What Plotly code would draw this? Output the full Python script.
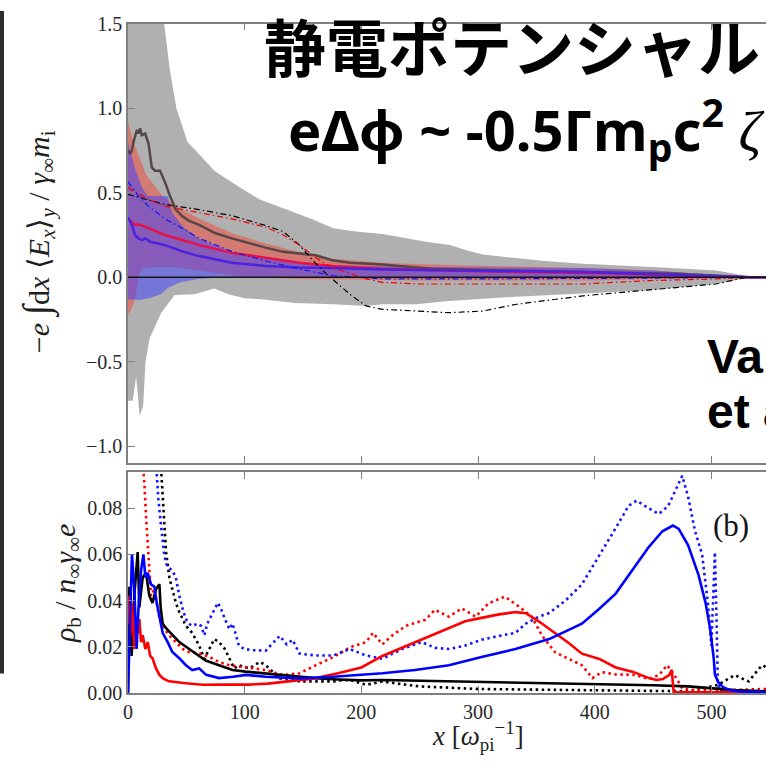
import plotly.graph_objects as go

# ---------------- upper panel: integrated field -e∫dx<Ex>_y ----------------
# grey envelope
gray_up_x = [0, 25, 31, 36, 41.5, 51, 62, 74, 85, 96, 113, 136, 159, 176, 195, 218, 235, 255, 276, 290, 304, 330, 360, 390, 450, 504, 520, 533, 547]
gray_up_y = [2.5, 1.8, 1.5, 1.22, 1.0, 0.80, 0.72, 0.63, 0.58, 0.53, 0.46, 0.40, 0.34, 0.29, 0.27, 0.255, 0.235, 0.21, 0.19, 0.16, 0.135, 0.115, 0.095, 0.08, 0.06, 0.04, 0.02, 0.0, 0.0]
gray_lo_x = [0, 4, 7, 10, 13, 15, 18.6, 21.3, 28.5, 34, 40, 57, 74, 86, 100, 114, 143, 176, 204, 218, 247, 275, 332, 390, 447, 504, 533, 547]
gray_lo_y = [-0.73, -0.73, -0.59, -0.82, -0.76, -0.5, -0.36, -0.32, -0.21, -0.16, -0.105, -0.10, -0.067, -0.10, -0.124, -0.13, -0.153, -0.16, -0.17, -0.16, -0.16, -0.14, -0.115, -0.096, -0.077, -0.04, 0.0, 0.0]

# red envelope
red_up_x = [0, 4, 8, 16, 31, 46, 60, 89, 118, 146, 175, 218, 260, 320, 390, 450, 533, 547]
red_up_y = [0.92, 0.82, 0.74, 0.60, 0.47, 0.40, 0.35, 0.26, 0.20, 0.15, 0.11, 0.085, 0.075, 0.065, 0.055, 0.04, 0.0, 0.0]
red_lo_x = [0, 3, 6, 9, 12, 20, 40, 60, 80, 100, 150, 250, 400, 533, 547]
red_lo_y = [-0.22, -0.19, -0.13, 0.0, 0.05, 0.06, 0.06, 0.04, 0.02, 0.0, -0.01, -0.02, -0.02, 0.0, 0.0]

# blue envelope
blue_up_x = [0, 5.7, 12, 17, 23, 34, 38, 47, 60, 89, 118, 147, 175, 260, 390, 450, 533, 547]
blue_up_y = [0.80, 0.65, 0.53, 0.48, 0.48, 0.48, 0.38, 0.30, 0.23, 0.15, 0.11, 0.08, 0.07, 0.06, 0.055, 0.04, 0.0, 0.0]
blue_lo_x = [0, 10, 20, 28, 35, 45, 60, 80, 150, 533, 547]
blue_lo_y = [-0.13, -0.135, -0.12, -0.10, -0.06, -0.03, -0.01, 0.0, 0.0, 0.0, 0.0]

# mean curves
gray_mean_x = [0, 2, 3.3, 4.7, 7.6, 9, 10.4, 11.8, 14.7, 17.6, 20.4, 23, 27.5, 31.8, 36, 41, 46.6, 52, 61, 75, 89, 104, 118, 133, 147, 161, 175, 190, 218, 260, 320, 400, 470, 533, 547]
gray_mean_y = [0.75, 0.73, 0.75, 0.80, 0.87, 0.85, 0.88, 0.84, 0.85, 0.79, 0.65, 0.63, 0.63, 0.56, 0.48, 0.40, 0.36, 0.335, 0.31, 0.26, 0.23, 0.20, 0.175, 0.15, 0.14, 0.13, 0.10, 0.085, 0.075, 0.05, 0.04, 0.03, 0.02, 0.0, 0.0]
red_mean_x = [0, 3.3, 6, 10, 17.6, 31.8, 46.6, 61, 89, 118, 147, 175, 218, 300, 400, 533, 547]
red_mean_y = [0.345, 0.325, 0.31, 0.312, 0.29, 0.25, 0.22, 0.19, 0.144, 0.115, 0.086, 0.067, 0.05, 0.035, 0.025, 0.0, 0.0]
blue_mean_x = [0, 3.3, 6, 9, 12, 14.7, 19, 26, 31.8, 46.6, 61, 89, 118, 147, 175, 218, 300, 400, 533, 547]
blue_mean_y = [0.354, 0.31, 0.25, 0.23, 0.22, 0.23, 0.21, 0.20, 0.19, 0.153, 0.125, 0.086, 0.067, 0.057, 0.054, 0.045, 0.04, 0.03, 0.0, 0.0]

# model curves (dash-dot)
black_model_x = [0, 31.8, 61, 89, 118, 133, 147, 161, 170, 178, 190, 204, 218, 247, 275, 304, 333, 390, 447, 504, 527, 533, 547]
black_model_y = [0.49, 0.43, 0.40, 0.364, 0.306, 0.27, 0.19, 0.08, 0.02, -0.03, -0.10, -0.17, -0.19, -0.20, -0.21, -0.20, -0.16, -0.11, -0.077, -0.04, -0.005, 0.0, 0.0]
red_model_x = [0, 17.6, 31.8, 61, 89, 118, 133, 147, 161, 175, 204, 218, 250, 390, 447, 504, 533, 547]
red_model_y = [0.53, 0.46, 0.42, 0.383, 0.345, 0.297, 0.25, 0.19, 0.115, 0.057, -0.01, -0.03, -0.04, -0.04, -0.02, -0.01, 0.0, 0.0]
blue_model_x = [0, 9, 17.6, 31.8, 46.6, 61, 89, 118, 147, 175, 218, 300, 450, 533, 547]
blue_model_y = [0.565, 0.48, 0.42, 0.345, 0.29, 0.23, 0.153, 0.096, 0.048, 0.01, -0.01, -0.01, -0.005, 0.0, 0.0]

# ---------------- lower panel: rho_b / n γ e ----------------
rb_black_x = [0, 1.2, 3.1, 5.4, 8.3, 9.7, 12.6, 15.4, 18.3, 21, 24, 26.9, 28, 29.7, 32.6, 38.3, 44, 49.7, 58, 66.6, 78, 89.6, 101, 120, 140, 160, 180, 200, 218, 250, 300, 350, 400, 450, 480, 500, 520, 547]
rb_black_y = [0, 0.046, 0.016, 0.042, 0.061, 0.037, 0.05, 0.052, 0.042, 0.039, 0.045, 0.047, 0.037, 0.03, 0.028, 0.025, 0.022, 0.02, 0.017, 0.014, 0.012, 0.0099, 0.0092, 0.0082, 0.0072, 0.0064, 0.0058, 0.0054, 0.0056, 0.0053, 0.005, 0.0045, 0.004, 0.0033, 0.0028, 0.002, 0.0012, 0.0007]

rb_blue_x = [0, 1.2, 3.4, 5.4, 7.4, 9.2, 11.2, 13.2, 14.9, 16.9, 19.7, 22.6, 24.6, 27, 29.7, 34, 38, 44, 49.7, 55, 61, 67, 78, 90, 101, 118, 147, 176, 218, 246, 275, 303, 332, 361, 389, 403, 418, 432, 446, 458, 467, 472, 480, 489, 495, 499, 502, 503, 506, 510, 516, 525, 547]
rb_blue_y = [0, 0.019, 0.06, 0.045, 0.019, 0.039, 0.053, 0.06, 0.05, 0.052, 0.047, 0.046, 0.039, 0.033, 0.026, 0.022, 0.0177, 0.015, 0.012, 0.0099, 0.0106, 0.0078, 0.0064, 0.007, 0.0078, 0.007, 0.0063, 0.007, 0.0085, 0.0099, 0.012, 0.0155, 0.019, 0.0233, 0.030, 0.036, 0.043, 0.053, 0.063, 0.07, 0.0725, 0.071, 0.064, 0.051, 0.039, 0.0275, 0.015, 0.008, 0.0045, 0.0025, 0.0012, 0.0006, 0.0003]

rb_red_x = [0, 0.9, 2, 3.4, 5.4, 6.8, 8.3, 9.7, 11.2, 12.6, 14.9, 16.9, 19, 21, 24, 27, 29.7, 35, 49.7, 64, 78, 92, 103, 120, 140, 160, 180, 200, 218, 246, 275, 289, 303, 318, 332, 341, 352, 366, 378, 389, 404, 418, 433, 447, 453, 458.5, 464, 466, 467.6, 469, 480, 500, 547]
rb_red_y = [0.03, 0.042, 0.025, 0.039, 0.019, 0.03, 0.026, 0.032, 0.022, 0.025, 0.019, 0.022, 0.016, 0.015, 0.0106, 0.0078, 0.0064, 0.005, 0.0042, 0.0035, 0.0036, 0.0035, 0.0036, 0.004, 0.005, 0.0063, 0.0085, 0.011, 0.016, 0.022, 0.028, 0.031, 0.0325, 0.034, 0.035, 0.0345, 0.031, 0.026, 0.0215, 0.017, 0.0147, 0.011, 0.0091, 0.0063, 0.0056, 0.006, 0.0078, 0.0100, 0.0005, 0.0003, 0.0003, 0.0003, 0.0003]

rb_red_dot_x = [12.6, 14, 15.4, 17, 18.3, 19.7, 22.6, 27, 29.7, 35, 41, 47, 52, 61, 70, 78, 87, 98, 104, 118, 133, 147, 161, 176, 190, 204, 210, 218, 226, 238, 255, 263, 275, 286, 298, 309, 323, 335, 346, 355, 366, 378, 389, 398, 406, 418, 435, 446, 455, 462, 468, 475, 487, 503, 532, 547]
rb_red_dot_y = [0.1, 0.091, 0.077, 0.063, 0.05, 0.042, 0.045, 0.032, 0.029, 0.025, 0.022, 0.019, 0.0177, 0.0172, 0.0155, 0.0134, 0.012, 0.0113, 0.0106, 0.0099, 0.0077, 0.0085, 0.012, 0.0155, 0.0197, 0.022, 0.026, 0.021, 0.0247, 0.029, 0.0317, 0.036, 0.033, 0.0366, 0.033, 0.0388, 0.0417, 0.0374, 0.033, 0.0247, 0.0176, 0.0148, 0.012, 0.0064, 0.009, 0.008, 0.0078, 0.006, 0.0077, 0.012, 0.008, 0.002, 0.0011, 0.0011, 0.0015, 0.0017]

rb_blue_dot_x = [24, 26, 28, 29.7, 31, 32.6, 35.4, 38, 41, 44, 47, 49.7, 52, 55, 59.7, 62.6, 65.4, 68, 71, 74, 77, 80, 83, 87, 89.6, 92, 95, 99.6, 107, 118, 130, 136, 141, 147, 161, 176, 190, 204, 218, 235, 252, 263, 275, 289, 303, 318, 332, 341, 352, 361, 375, 389, 403, 418, 429, 436, 446, 455, 463, 472, 475, 480, 486, 492, 497, 500, 503, 504.5, 505.5, 507, 520, 547]
rb_blue_dot_y = [0.1, 0.084, 0.074, 0.064, 0.06, 0.056, 0.054, 0.053, 0.05, 0.042, 0.036, 0.032, 0.03, 0.029, 0.03, 0.029, 0.025, 0.03, 0.033, 0.036, 0.039, 0.036, 0.032, 0.0276, 0.03, 0.026, 0.0205, 0.019, 0.0185, 0.0183, 0.0247, 0.021, 0.023, 0.017, 0.0162, 0.0162, 0.019, 0.0162, 0.0148, 0.019, 0.022, 0.0195, 0.019, 0.0205, 0.023, 0.0247, 0.026, 0.03, 0.033, 0.0346, 0.04, 0.047, 0.0585, 0.0714, 0.081, 0.0833, 0.08, 0.0775, 0.081, 0.091, 0.094, 0.085, 0.07, 0.06, 0.039, 0.0205, 0.061, 0.03, 0.005, 0.001, 0.0005, 0.0005]

rb_black_dot_x = [28, 29.7, 31, 32.6, 35.4, 38, 41, 44, 49.7, 55, 61, 65.4, 70, 74, 78, 83, 87, 91, 95, 104, 113, 118, 130, 147, 176, 190, 204, 218, 250, 300, 350, 400, 450, 480, 494, 506, 515, 520, 526, 532, 541, 544, 547]
rb_black_dot_y = [0.1, 0.084, 0.073, 0.061, 0.05, 0.045, 0.039, 0.035, 0.029, 0.026, 0.0205, 0.0148, 0.019, 0.0233, 0.022, 0.019, 0.0148, 0.0106, 0.012, 0.0106, 0.0134, 0.012, 0.0063, 0.005, 0.005, 0.0057, 0.0035, 0.0049, 0.0028, 0.0017, 0.0014, 0.0011, 0.0008, 0.0007, 0.0021, 0.0035, 0.0063, 0.0077, 0.0063, 0.005, 0.0106, 0.012, 0.011]

x_ticks = [0, 100, 200, 300, 400, 500]
top_yticks = [-1.0, -0.5, 0.0, 0.5, 1.0, 1.5]
bot_yticks = [0.0, 0.02, 0.04, 0.06, 0.08]

W, H = 766, 768
L = 128
X_MAX = 546.8


def band(xu, yu, xl, yl):
    return xu + xl[::-1], yu + yl[::-1]


fig = go.Figure()

for (xu, yu, xl, yl, col) in [
    (gray_up_x, gray_up_y, gray_lo_x, gray_lo_y, "rgb(176,176,176)"),
    (red_up_x, red_up_y, red_lo_x, red_lo_y, "rgba(255,60,40,0.45)"),
    (blue_up_x, blue_up_y, blue_lo_x, blue_lo_y, "rgba(60,60,255,0.5)"),
]:
    bx, by = band(xu, yu, xl, yl)
    fig.add_trace(go.Scatter(x=bx, y=by, fill="toself", fillcolor=col, mode="none",
                             xaxis="x", yaxis="y", hoverinfo="skip"))

for (xs, ys, col) in [(gray_mean_x, gray_mean_y, "rgb(85,70,72)"),
                      (red_mean_x, red_mean_y, "rgb(232,16,74)"),
                      (blue_mean_x, blue_mean_y, "rgb(74,34,224)")]:
    fig.add_trace(go.Scatter(x=xs, y=ys, mode="lines", line=dict(color=col, width=2.5),
                             xaxis="x", yaxis="y"))

for (xs, ys, col) in [(black_model_x, black_model_y, "black"),
                      (red_model_x, red_model_y, "rgb(240,0,0)"),
                      (blue_model_x, blue_model_y, "rgb(20,20,240)")]:
    fig.add_trace(go.Scatter(x=xs, y=ys, mode="lines",
                             line=dict(color=col, width=1.2, dash="6px,3px,1.5px,3px"),
                             xaxis="x", yaxis="y"))

# lower panel curves
for (xs, ys, col) in [(rb_black_dot_x, rb_black_dot_y, "black"),
                      (rb_red_dot_x, rb_red_dot_y, "rgb(255,0,0)"),
                      (rb_blue_dot_x, rb_blue_dot_y, "rgb(20,20,255)")]:
    fig.add_trace(go.Scatter(x=xs, y=ys, mode="lines",
                             line=dict(color=col, width=2.6, dash="2.5px,3.5px"),
                             xaxis="x2", yaxis="y2"))
for (xs, ys, col) in [(rb_black_x, rb_black_y, "black"),
                      (rb_red_x, rb_red_y, "rgb(255,0,0)"),
                      (rb_blue_x, rb_blue_y, "rgb(0,0,255)")]:
    fig.add_trace(go.Scatter(x=xs, y=ys, mode="lines", line=dict(color=col, width=2.6),
                             xaxis="x2", yaxis="y2"))

axis_col = "rgb(128,128,128)"
tick_font = dict(family="Liberation Serif", size=20, color="rgb(40,40,40)")
common_x = dict(range=[0, X_MAX], tickvals=x_ticks, ticks="inside", ticklen=7, tickwidth=1.2,
                tickcolor=axis_col, showline=True, linecolor=axis_col, linewidth=1.5,
                mirror="ticks", showgrid=False, zeroline=False, domain=[0, 1])
common_y = dict(ticks="inside", ticklen=7, tickwidth=1.2, tickcolor=axis_col, showline=True,
                linecolor=axis_col, linewidth=1.5, showgrid=False, zeroline=False,
                tickfont=tick_font)


def py(p):
    return 1 - p / H


fig.update_layout(
    width=W, height=H, margin=dict(l=L, r=0, t=0, b=0),
    paper_bgcolor="white", plot_bgcolor="white", showlegend=False,
    xaxis=dict(common_x, anchor="y", showticklabels=False),
    yaxis=dict(common_y, range=[-1.097, 1.5], tickvals=top_yticks, tickformat=".1f",
               domain=[py(465), py(13)], anchor="x"),
    xaxis2=dict(common_x, anchor="y2", tickfont=tick_font),
    yaxis2=dict(common_y, range=[0, 0.0955], tickvals=bot_yticks, tickformat=".2f",
                domain=[py(702), py(475)], anchor="x2"),
)

# zero line in the upper panel
fig.add_shape(type="line", xref="x domain", yref="y", x0=0, x1=1, y0=0, y1=0,
              line=dict(color="rgb(20,20,20)", width=1.5), layer="above")

# dark edge strip on the far left
fig.add_shape(type="rect", xref="paper", yref="paper", x0=-L / 638, x1=(-L + 4) / 638,
              y0=py(682), y1=1, fillcolor="rgb(45,45,45)", line=dict(width=0))


def px(p):
    return (p - L) / 638


serif = "Liberation Serif"
fig.add_annotation(xref="paper", yref="paper", x=px(37), y=py(238), textangle=-90,
                   showarrow=False, xanchor="center", yanchor="middle",
                   font=dict(family=serif, size=30, color="rgb(30,30,30)"),
                   text="−<i>e</i> <span style='font-size:38px'>∫</span>d<i>x</i> ⟨<i>E<sub>x</sub></i>⟩<sub><i>y</i></sub> / <i>γ</i><sub>∞</sub><i>m</i><sub>i</sub>")
fig.add_annotation(xref="paper", yref="paper", x=px(67), y=py(590), textangle=-90,
                   showarrow=False, xanchor="center", yanchor="middle",
                   font=dict(family=serif, size=30, color="rgb(30,30,30)"),
                   text="<i>ρ</i><sub>b</sub> / <i>n</i><sub>∞</sub><i>γ</i><sub>∞</sub><i>e</i>")
fig.add_annotation(xref="paper", yref="paper", x=px(478), y=py(746), showarrow=False,
                   xanchor="center", yanchor="middle",
                   font=dict(family=serif, size=27, color="rgb(30,30,30)"),
                   text="<i>x</i> [<i>ω</i><sub>pi</sub><sup>−1</sup>]")
fig.add_annotation(xref="x2", yref="y2", x=516.6, y=0.0727, showarrow=False,
                   xanchor="center", yanchor="middle",
                   font=dict(family=serif, size=31, color="rgb(20,20,20)"), text="(b)")

# slide text on top of the figure
fig.add_annotation(xref="paper", yref="paper", x=px(262), y=py(35), showarrow=False,
                   xanchor="left", yanchor="middle",
                   font=dict(family="Noto Sans CJK JP", size=62, color="black", weight="bold"),
                   text="静電ポテンシャル")
fig.add_annotation(xref="paper", yref="paper", x=px(286), y=py(121), showarrow=False,
                   xanchor="left", yanchor="middle",
                   font=dict(family="Noto Sans", size=56, color="black", weight="bold"),
                   text="eΔϕ ~ -0.5Γm<sub>p</sub>c<sup>2</sup> <span style='font-family:Liberation Serif;font-weight:normal'><i>ζ</i></span>")
fig.add_annotation(xref="paper", yref="paper", x=px(705), y=py(356), showarrow=False,
                   xanchor="left", yanchor="middle",
                   font=dict(family="Liberation Sans", size=48, color="black", weight="bold"),
                   text="Vanthieghem")
fig.add_annotation(xref="paper", yref="paper", x=px(705), y=py(412), showarrow=False,
                   xanchor="left", yanchor="middle",
                   font=dict(family="Liberation Sans", size=48, color="black", weight="bold"),
                   text="et al.")

fig.write_html("out.html")
